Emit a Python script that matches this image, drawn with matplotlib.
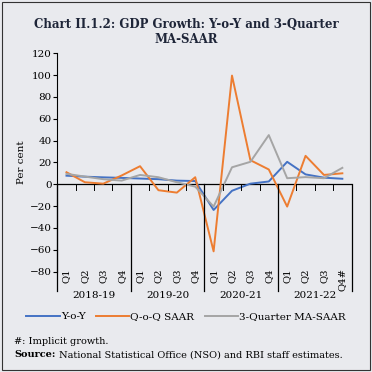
import numpy as np
import matplotlib
matplotlib.use('Agg')
import matplotlib.pyplot as plt
from matplotlib.patches import Rectangle

# Data
years = ['2018-19', '2019-20', '2020-21', '2021-22']
quarters = ['Q1', 'Q2', 'Q3', 'Q4'] * 3 + ['Q1', 'Q2', 'Q3', 'Q4#']
yoy = [7.8, 6.9, 6.3, 5.8, 5.2, 4.6, 3.3, 2.9,
       -23.6, -6.0, 0.5, 2.5, 20.5, 9.0, 6.0, 5.0]
qoq_saar = [11.0, 1.8, 0.5, 8.0, 16.5, -5.5, -7.7, 6.4,
            -61.5, 99.5, 22.0, 13.5, -20.5, 26.0, 8.5, 10.0]
ma3_saar = [9.5, 7.0, 4.6, 3.3, 8.5, 6.4, 1.8, -2.2,
            -20.5, 15.5, 20.5, 45.0, 5.5, 6.5, 5.5, 15.0]

bg = '#e9eaee'
plt.rcParams['font.family'] = ['DejaVu Serif']

fig = plt.figure(figsize=(3.72, 3.72), dpi=100, facecolor=bg)
ax = fig.add_axes([0.154, 0.270, 0.791, 0.587], facecolor=bg)

x = np.arange(len(yoy))
ax.plot(x, yoy, color='#4472c4', lw=1.4, label='Y-o-Y')
ax.plot(x, qoq_saar, color='#ed7d31', lw=1.4, label='Q-o-Q SAAR')
ax.plot(x, ma3_saar, color='#a5a5a5', lw=1.4, label='3-Quarter MA-SAAR')

ax.set_xlim(-0.5, len(x) - 0.5)
ax.set_ylim(-80, 120)
ax.set_yticks(range(-80, 121, 20))
ax.tick_params(axis='y', labelsize=7.5, length=3, width=0.8, pad=1)
ax.set_xticks([])
for s in ['top', 'right', 'bottom']:
    ax.spines[s].set_visible(False)
ax.spines['left'].set_bounds(-80, 120)
ax.set_ylabel('Per cent', fontsize=7.5, labelpad=3)

# zero line acting as x axis
ax.axhline(0, color='black', lw=0.9, zorder=1)

# quarter ticks and year separators
for b in np.arange(-0.5, len(x), 1):
    if (b + 0.5) % 4 == 0:
        ax.plot([b, b], [0, -98], color='black', lw=0.9, clip_on=False)
    else:
        ax.plot([b, b], [0, -5], color='black', lw=0.7, clip_on=False)
for i, q in enumerate(quarters):
    ax.text(i, -77, q, rotation=90, ha='center', va='top', fontsize=7.2)
for k, yr in enumerate(years):
    ax.text(4 * k + 1.5, -102, yr, ha='center', va='center', fontsize=7.5)

fig.legend(loc='center', bbox_to_anchor=(0.5, 0.149), ncol=3, frameon=False,
           fontsize=7.5, handlelength=3.2, columnspacing=1.0, handletextpad=0.1)

fig.text(0.5, 0.952, 'Chart II.1.2: GDP Growth: Y-o-Y and 3-Quarter\nMA-SAAR',
         ha='center', va='top', fontsize=8.5, fontweight='bold',
         color='#1e2538', linespacing=1.2)
fig.text(0.038, 0.082, '#: Implicit growth.', fontsize=7, va='center')
src = fig.text(0.038, 0.046, 'Source:', fontsize=7, va='center', fontweight='bold')
ax.annotate(' National Statistical Office (NSO) and RBI staff estimates.',
            xy=(1, 0.5), xycoords=src, va='center', ha='left', fontsize=7,
            annotation_clip=False)

# outer frame
fig.patches.append(Rectangle((0.006, 0.006), 0.988, 0.988, transform=fig.transFigure,
                             fill=False, edgecolor='#333333', lw=0.8))

fig.savefig('out.png', dpi=100, facecolor=bg)
